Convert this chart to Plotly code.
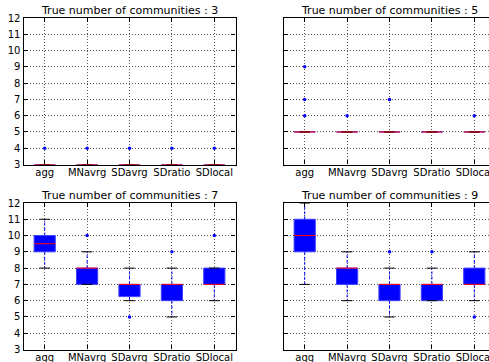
import plotly.graph_objects as go

# Methods compared in every panel
categories = ["agg", "MNavrg", "SDavrg", "SDratio", "SDlocal"]
true_k = [3, 5, 7, 9]

# Box statistics per panel (one entry per method)
q1_k3 = [3, 3, 3, 3, 3]
med_k3 = [3, 3, 3, 3, 3]
q3_k3 = [3, 3, 3, 3, 3]
lo_k3 = [3, 3, 3, 3, 3]
hi_k3 = [3, 3, 3, 3, 3]
out_k3 = [[4], [4], [4], [4], [4]]

q1_k5 = [5, 5, 5, 5, 5]
med_k5 = [5, 5, 5, 5, 5]
q3_k5 = [5, 5, 5, 5, 5]
lo_k5 = [5, 5, 5, 5, 5]
hi_k5 = [5, 5, 5, 5, 5]
out_k5 = [[6, 7, 9], [6], [7], [], [6]]

q1_k7 = [9, 7, 6.25, 6, 7]
med_k7 = [9.5, 8, 7, 7, 7]
q3_k7 = [10, 8, 7, 7, 8]
lo_k7 = [8, 7, 6, 5, 6]
hi_k7 = [11, 9, 8, 8, 8]
out_k7 = [[], [10], [5], [9], [10]]

q1_k9 = [9, 7, 6, 6, 7]
med_k9 = [10, 8, 7, 7, 7]
q3_k9 = [11, 8, 7, 7, 8]
lo_k9 = [7, 6, 5, 6, 6]
hi_k9 = [12, 9, 8, 8, 9]
out_k9 = [[], [], [9], [9], [5]]

y_ticks = list(range(3, 13))

panels = [
    (q1_k3, med_k3, q3_k3, lo_k3, hi_k3, out_k3),
    (q1_k5, med_k5, q3_k5, lo_k5, hi_k5, out_k5),
    (q1_k7, med_k7, q3_k7, lo_k7, hi_k7, out_k7),
    (q1_k9, med_k9, q3_k9, lo_k9, hi_k9, out_k9),
]

W, H = 489, 362
AX_W = 212.0          # axes width in px
UNIT = AX_W / 5.0     # px per category
left_x0 = 23.5
right_x0 = 283.5
top_row = (18.0, 164.5)
bot_row = (203.0, 349.5)

def xdom(x0):
    return [x0 / W, min(1.0, (x0 + AX_W) / W)]

def ydom(r):
    return [(H - r[1]) / H, (H - r[0]) / H]

layout_axes = {}
fig = go.Figure()
BOX_HW = 0.25
CAP_HW = 0.125
FONT = "DejaVu Sans, Arial, sans-serif"

annotations = []
for i, (q1, med, q3, lo, hi, outs) in enumerate(panels):
    col = i % 2
    row = i // 2
    xa = "x" if i == 0 else f"x{i+1}"
    ya = "y" if i == 0 else f"y{i+1}"
    x0 = left_x0 if col == 0 else right_x0
    rr = top_row if row == 0 else bot_row
    xr_max = 0.5 + (min(W, x0 + AX_W) - x0) / UNIT

    for j, cat in enumerate(categories):
        c = j + 1
        # whiskers
        fig.add_trace(go.Scatter(
            x=[c, c, None, c, c], y=[q3[j], hi[j], None, q1[j], lo[j]],
            mode="lines", line=dict(color="blue", width=1, dash="3px,2px"),
            xaxis=xa, yaxis=ya, showlegend=False, hoverinfo="skip"))
        # box
        fig.add_trace(go.Scatter(
            x=[c - BOX_HW, c + BOX_HW, c + BOX_HW, c - BOX_HW, c - BOX_HW],
            y=[q1[j], q1[j], q3[j], q3[j], q1[j]],
            mode="lines", fill="toself", fillcolor="#0000ff",
            line=dict(color="#4040ff", width=1),
            xaxis=xa, yaxis=ya, showlegend=False, hoverinfo="skip"))
        # caps
        fig.add_trace(go.Scatter(
            x=[c - CAP_HW, c + CAP_HW, None, c - CAP_HW, c + CAP_HW],
            y=[hi[j], hi[j], None, lo[j], lo[j]],
            mode="lines", line=dict(color="black", width=1),
            xaxis=xa, yaxis=ya, showlegend=False, hoverinfo="skip"))
        # median
        fig.add_trace(go.Scatter(
            x=[c - BOX_HW, c + BOX_HW], y=[med[j], med[j]],
            mode="lines", line=dict(color="red", width=1),
            xaxis=xa, yaxis=ya, showlegend=False, hoverinfo="skip"))
        # fliers
        if outs[j]:
            fig.add_trace(go.Scatter(
                x=[c] * len(outs[j]), y=outs[j], mode="markers",
                marker=dict(color="blue", size=3.5, symbol="circle"),
                xaxis=xa, yaxis=ya, showlegend=False, hoverinfo="skip",
                cliponaxis=False))

    common = dict(showgrid=True, gridcolor="#555555", griddash="1px,2px", gridwidth=1,
                  zeroline=False, showline=True, linecolor="black", linewidth=1.2,
                  ticks="inside", ticklen=4, tickcolor="black", automargin=False,
                  ticklabeloverflow="allow",
                  tickfont=dict(family=FONT, size=10, color="black"))
    layout_axes["xaxis" if i == 0 else f"xaxis{i+1}"] = dict(
        common, domain=xdom(x0), anchor=ya, range=[0.5, xr_max],
        tickmode="array", tickvals=[1, 2, 3, 4, 5], ticktext=categories,
        mirror="ticks", ticklabelstandoff=-2)
    layout_axes["yaxis" if i == 0 else f"yaxis{i+1}"] = dict(
        common, domain=ydom(rr), anchor=xa, range=[3, 12],
        tickmode="array", tickvals=y_ticks,
        showticklabels=(col == 0), mirror=("ticks" if col == 0 else False))

    annotations.append(dict(
        text=f"True number of communities : {true_k[i]}",
        x=(x0 + AX_W / 2) / W, y=(H - rr[0]) / H, xref="paper", yref="paper",
        xanchor="center", yanchor="bottom", yshift=-1, showarrow=False,
        font=dict(family=FONT, size=11, color="black")))

fig.update_layout(
    width=W, height=H, autosize=False,
    margin=dict(l=0, r=0, t=0, b=0),
    paper_bgcolor="white", plot_bgcolor="white",
    annotations=annotations, **layout_axes)

fig.write_html("out.html")
